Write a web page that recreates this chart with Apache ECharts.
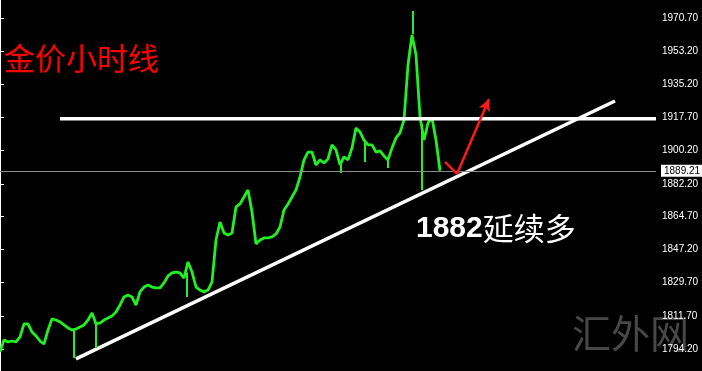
<!DOCTYPE html>
<html><head><meta charset="utf-8">
<script src="https://cdn.jsdelivr.net/npm/echarts@6/dist/echarts.min.js"></script>
<style>html,body{margin:0;padding:0;background:#000;}#c{width:702px;height:371px;}</style>
</head><body><div id="c"></div>
<script>
// Hourly gold close prices (one value per hour, index = hour number)
const closes = [
1792.6,1799.0,1797.9,1798.4,1797.9,1800.6,1807.5,1807.5,1803.2,1801.1,
1798.4,1796.8,1804.3,1810.2,1809.6,1808.6,1807.0,1805.4,1804.3,1804.8,
1805.9,1807.0,1809.6,1813.4,1807.5,1808.0,1809.6,1810.7,1811.8,1813.9,
1817.6,1821.9,1823.0,1821.9,1817.6,1824.6,1827.2,1828.3,1827.2,1826.7,
1826.7,1829.4,1833.1,1834.7,1835.2,1834.7,1832.0,1840.6,1835.2,1827.2,
1825.6,1824.6,1825.6,1829.9,1852.3,1861.9,1856.0,1855.0,1856.0,1869.9,
1871.5,1875.2,1879.0,1867.2,1850.2,1852.3,1853.4,1853.4,1853.9,1855.5,
1859.2,1868.3,1871.5,1875.2,1879.0,1885.9,1895.0,1899.2,1899.2,1892.3,
1895.0,1893.4,1895.5,1903.0,1900.3,1892.3,1896.6,1895.0,1901.4,1912.0,
1909.9,1905.6,1903.0,1903.0,1899.2,1899.8,1897.1,1895.0,1901.4,1906.7,
1909.4,1916.3,1945.6,1961.6,1951.0,1917.9,1905.6,1914.7,1917.4,1905.6,
1889.21
];
const totalHours = 164;
// Single-bar spikes: [hour, from price, to price]
const wicks = [
  [18.5,1804.5,1789.4],[24,1808.0,1794.7],[46.75,1835.0,1821.9],
  [85.25,1894.0,1888.0],[91.25,1904.0,1893.9],[97,1896.0,1890.7],
  [105.5,1914.0,1879.0],[103.25,1962.0,1974.4]
];
// Price axis tick labels
const tickValues = [1970.70,1953.20,1935.20,1917.70,1900.20,1882.20,1864.70,1847.20,1829.70,1811.70,1794.20];
const lastPrice = 1889.21;
// Drawn annotations (hour, price)
const resistance = [[15,1917.0],[164,1917.0]];
const trendLine = [[19,1788.9],[153.75,1926.4]];
const arrowPath = [[111.25,1893.9],[114.25,1887.5],[122.25,1927.5]];

const chart = echarts.init(document.getElementById('c'));
const green = '#22f022';
chart.setOption({
  backgroundColor:'#000',
  animation:false,
  grid:{left:0,right:46,top:0,bottom:0},
  xAxis:{type:'value',min:0,max:totalHours,show:false},
  yAxis:{type:'value',position:'right',min:1782.4,max:1980.3,
    splitLine:{show:false},
    axisLine:{show:true,lineStyle:{color:'#ffffff',width:1}},
    axisTick:{show:true,length:4,customValues:tickValues,lineStyle:{color:'#ffffff'}},
    axisLabel:{show:true,customValues:tickValues,margin:6,color:'#ffffff',fontSize:10,
      fontFamily:'Liberation Sans',formatter:v=>Number(v).toFixed(2)}
  },
  graphic:[
    {type:'text',left:4,top:43,z:10,style:{text:'金价小时线',fill:'#ff0000',font:'31px "Noto Sans CJK SC"'}},
    {type:'text',left:416,top:213,z:10,style:{text:'{a|1882}{b|延续多}',fill:'#fff',
      rich:{a:{fontFamily:'Liberation Sans',fontWeight:'bold',fontSize:30,fill:'#fff'},
            b:{fontFamily:'Noto Sans CJK SC',fontSize:31,fill:'#fff'}}}},
    {type:'text',left:572,top:314,z:-1,style:{text:'汇外网',fill:'rgba(120,120,120,0.6)',font:'39px "Noto Sans CJK SC"'}}
  ],
  series:[
    {type:'line',data:closes.map((v,i)=>[i,v]),showSymbol:false,symbol:'none',
     lineStyle:{color:green,width:2.8},z:3,
     markLine:{silent:true,symbol:'none',animation:false,
       lineStyle:{color:green,width:2,type:'solid'},label:{show:false},
       data:wicks.map(w=>[{coord:[w[0],w[1]]},{coord:[w[0],w[2]]}])}
    },
    {type:'line',data:[],markLine:{silent:true,symbol:'none',animation:false,
      data:[[{yAxis:lastPrice,x:0},{yAxis:lastPrice,x:656}]],
      lineStyle:{color:'#8a8a8a',width:1,type:'solid'},
      label:{show:true,position:'end',distance:5,formatter:lastPrice.toFixed(2),
        backgroundColor:'#ffffff',color:'#000',fontSize:10,fontFamily:'Liberation Sans',padding:[1,3,1,3]}}},
    {type:'line',data:resistance,showSymbol:false,symbol:'none',lineStyle:{color:'#fff',width:3.5},z:4},
    {type:'line',data:trendLine,showSymbol:false,symbol:'none',lineStyle:{color:'#fff',width:3.5},z:4},
    {type:'line',data:[],markLine:{silent:true,animation:false,
      lineStyle:{color:'#ff1a1a',width:2.5,type:'solid'},label:{show:false},
      data:[
        [{coord:arrowPath[0],symbol:'none'},{coord:arrowPath[1],symbol:'none'}],
        [{coord:arrowPath[1],symbol:'none'},{coord:arrowPath[2],symbol:'arrow',symbolSize:[9,12]}]
      ]}}
  ]
});
</script></body></html>
